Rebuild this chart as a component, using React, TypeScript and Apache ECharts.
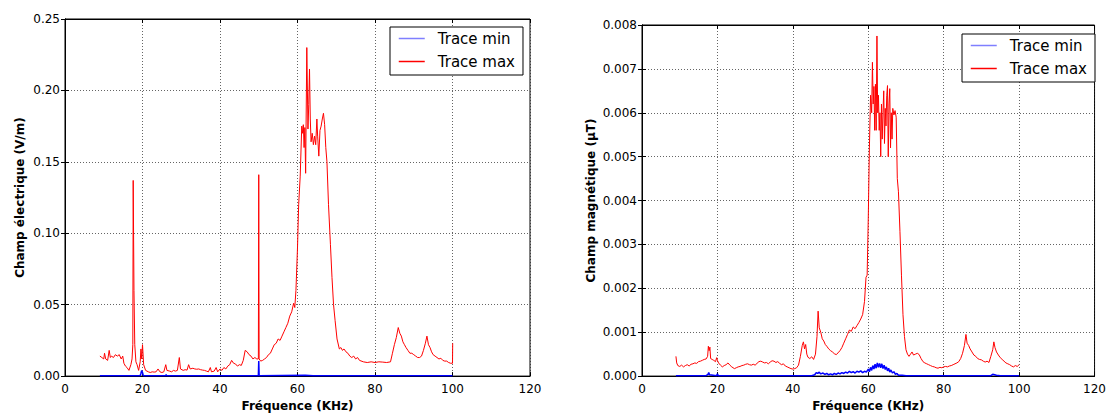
import React, { useEffect, useRef } from "react";
import * as echarts from "echarts";

// ---------- Left chart: electric field ----------
const xTicks = [0, 20, 40, 60, 80, 100, 120];
const eTicks = ["0.00", "0.05", "0.10", "0.15", "0.20", "0.25"];
const bTicks = ["0.000", "0.001", "0.002", "0.003", "0.004", "0.005", "0.006", "0.007", "0.008"];

const eMaxFreq = [
  9.0, 9.5, 10.0, 10.2, 10.5, 11.0, 11.4, 11.7, 12.0, 12.5, 13.0, 13.5, 14.0, 14.5, 14.9, 15.2, 15.6, 16.0, 16.5, 17.0,
  17.3, 17.5, 17.6, 17.8, 18.0, 18.3, 18.6, 19.0, 19.4, 19.6, 19.8, 20.0, 20.3, 20.8, 21.5, 22.0, 22.5, 23.0, 23.5, 24.0,
  24.5, 25.0, 25.5, 26.0, 26.3, 27.0, 27.5, 28.0, 28.5, 29.0, 29.5, 29.8, 30.5, 31.0, 31.5, 31.9, 32.3, 33.0, 33.5, 34.0,
  34.5, 35.0, 35.5, 36.0, 36.5, 37.0, 37.5, 37.8, 38.5, 39.0, 39.4, 40.0, 40.5, 41.0, 41.5, 42.0, 42.5, 43.0, 43.5, 44.0,
  44.5, 45.0, 45.5, 46.0, 46.5, 47.0, 47.5, 48.0, 48.5, 49.0, 49.5, 49.9, 50.0, 50.1, 50.5, 51.0, 51.5, 52.0, 52.5, 53.0,
  53.5, 54.0, 54.5, 55.0, 55.5, 56.0, 56.5, 57.0, 57.5, 58.0, 58.5, 59.0, 59.3, 59.6, 60.0, 60.3, 60.7, 61.1, 61.3, 61.5,
  61.7, 61.9, 62.1, 62.4, 62.7, 62.9, 63.1, 63.3, 63.5, 63.8, 64.1, 64.4, 64.7, 65.0, 65.2, 65.5, 65.8, 66.1, 66.4, 66.7,
  67.0, 67.3, 67.6, 68.0, 68.5, 68.9, 69.3, 69.7, 70.2, 70.8, 71.2, 71.6, 72.0, 72.5, 73.0, 73.5, 74.0, 74.5, 75.0, 75.5,
  76.0, 77.0, 78.0, 79.0, 80.0, 81.0, 82.0, 83.0, 84.0, 84.5, 85.0, 85.5, 86.0, 86.4, 86.8, 87.2, 87.6, 88.0, 88.5, 89.0,
  89.5, 90.0, 90.5, 91.0, 91.5, 92.0, 92.5, 93.0, 93.4, 93.8, 94.2, 94.6, 95.0, 95.5, 96.0, 96.5, 97.0, 97.5, 98.0, 98.5,
  99.0, 99.5, 100.0, 100.05,
];
const eMaxVal = [
  0.014, 0.013, 0.012, 0.016, 0.012, 0.011, 0.018, 0.013, 0.014, 0.013, 0.015, 0.014, 0.015, 0.012, 0.014, 0.009, 0.007, 0.006, 0.004, 0.008,
  0.012, 0.022, 0.137, 0.060, 0.022, 0.010, 0.008, 0.004, 0.010, 0.019, 0.012, 0.022, 0.008, 0.004, 0.003, 0.0025, 0.003, 0.0028, 0.003, 0.005,
  0.003, 0.0025, 0.003, 0.008, 0.004, 0.0035, 0.003, 0.004, 0.0035, 0.004, 0.013, 0.005, 0.004, 0.0045, 0.0042, 0.008, 0.005, 0.0055, 0.005, 0.0048,
  0.005, 0.0045, 0.0042, 0.004, 0.0035, 0.003, 0.006, 0.003, 0.0035, 0.006, 0.003, 0.005, 0.004, 0.006, 0.005, 0.007, 0.008, 0.011, 0.009, 0.0085,
  0.007, 0.008, 0.0075, 0.011, 0.018, 0.017, 0.015, 0.014, 0.012, 0.013, 0.012, 0.012, 0.141, 0.012, 0.0105, 0.011, 0.012, 0.013, 0.015, 0.016,
  0.019, 0.022, 0.023, 0.026, 0.025, 0.028, 0.031, 0.034, 0.037, 0.042, 0.045, 0.051, 0.048, 0.060, 0.090, 0.120, 0.140, 0.175, 0.170, 0.176,
  0.160, 0.174, 0.142, 0.230, 0.173, 0.190, 0.215, 0.180, 0.164, 0.170, 0.162, 0.168, 0.162, 0.180, 0.168, 0.154, 0.172, 0.175, 0.180, 0.184,
  0.176, 0.160, 0.150, 0.120, 0.092, 0.069, 0.050, 0.039, 0.026, 0.019, 0.020, 0.018, 0.019, 0.017, 0.016, 0.014, 0.013, 0.014, 0.012, 0.013,
  0.011, 0.010, 0.0095, 0.010, 0.0095, 0.010, 0.0098, 0.0095, 0.010, 0.016, 0.022, 0.027, 0.034, 0.030, 0.028, 0.024, 0.022, 0.020, 0.018, 0.016,
  0.016, 0.015, 0.014, 0.013, 0.013, 0.014, 0.018, 0.023, 0.028, 0.022, 0.020, 0.017, 0.015, 0.014, 0.013, 0.012, 0.0125, 0.011, 0.0105, 0.0105,
  0.0095, 0.009, 0.009, 0.023,
];

const eMinFreq = [9.0, 19.4, 19.6, 19.8, 20.0, 20.2, 26.0, 26.1, 26.2, 49.9, 50.0, 50.1, 62.0, 64.0, 100.0];
const eMinVal = [0.0003, 0.0003, 0.002, 0.004, 0.0025, 0.0003, 0.0003, 0.0012, 0.0003, 0.0003, 0.0105, 0.0003, 0.0006, 0.0003, 0.0003];

// ---------- Right chart: magnetic field ----------
const bMaxFreq = [
  9.0, 9.2, 9.5, 10.0, 10.5, 11.0, 11.5, 12.0, 12.5, 13.0, 13.5, 14.0, 14.5, 15.0, 15.5, 16.0, 16.5, 17.0, 17.4, 17.6,
  17.8, 18.0, 18.2, 18.6, 19.0, 19.5, 19.8, 20.0, 20.3, 20.8, 21.3, 21.8, 22.3, 22.8, 23.3, 23.8, 24.5, 25.0, 25.5, 26.0,
  26.5, 27.0, 27.5, 28.0, 28.5, 29.0, 29.5, 30.0, 30.5, 31.0, 31.5, 32.0, 32.5, 33.0, 33.5, 34.0, 34.5, 35.0, 35.5, 36.0,
  36.5, 37.0, 37.5, 38.0, 38.5, 39.0, 39.5, 40.0, 40.5, 41.0, 41.5, 42.0, 42.5, 42.8, 43.1, 43.4, 43.7, 44.0, 44.5, 45.0,
  45.5, 46.0, 46.4, 46.7, 47.0, 47.4, 47.8, 48.2, 48.6, 49.0, 49.5, 50.0, 50.5, 51.0, 51.5, 52.0, 52.5, 53.0, 53.5, 54.0,
  54.5, 55.0, 55.5, 56.0, 56.5, 57.0, 57.5, 58.0, 58.5, 59.0, 59.4, 59.7, 60.0, 60.3, 60.6, 60.9, 61.1, 61.3, 61.5, 61.7,
  61.9, 62.1, 62.3, 62.5, 62.7, 62.9, 63.1, 63.3, 63.5, 63.7, 63.9, 64.1, 64.3, 64.5, 64.7, 64.9, 65.1, 65.3, 65.5, 65.7,
  65.9, 66.1, 66.3, 66.5, 66.8, 67.1, 67.4, 67.7, 68.0, 68.4, 68.8, 69.2, 69.6, 70.0, 70.4, 70.8, 71.2, 71.6, 72.0, 72.5,
  73.0, 73.5, 74.0, 74.5, 75.0, 75.5, 76.0, 76.5, 77.0, 77.5, 78.0, 78.5, 79.0, 79.5, 80.0, 80.5, 81.0, 81.5, 82.0, 82.5,
  83.0, 83.5, 84.0, 84.5, 85.0, 85.5, 85.9, 86.2, 86.6, 87.0, 87.5, 88.0, 88.5, 89.0, 89.5, 90.0, 90.5, 91.0, 91.5, 92.0,
  92.5, 93.0, 93.3, 93.6, 94.0, 94.5, 95.0, 95.5, 96.0, 96.5, 97.0, 97.5, 98.0, 98.5, 99.0, 99.5, 100.0,
];
const bMaxVal = [
  0.00045, 0.0003, 0.00024, 0.00022, 0.00025, 0.00021, 0.00024, 0.00026, 0.00023, 0.00027, 0.00028, 0.0003, 0.00029, 0.00033, 0.00034, 0.00036, 0.00038, 0.00039, 0.00045, 0.00068,
  0.00058, 0.00066, 0.0004, 0.00038, 0.00036, 0.00033, 0.00042, 0.00036, 0.0003, 0.00025, 0.00021, 0.00024, 0.00026, 0.0003, 0.00025, 0.00021, 0.00017, 0.00019, 0.00021, 0.00022,
  0.00024, 0.00025, 0.00027, 0.00028, 0.00026, 0.00025, 0.00027, 0.00025, 0.00029, 0.00033, 0.00034, 0.00032, 0.0003, 0.00031, 0.00028, 0.00032, 0.00035, 0.00034, 0.00031, 0.00033,
  0.00029, 0.00026, 0.00028, 0.00023, 0.00021, 0.00019, 0.00017, 0.00016, 0.00017, 0.00019, 0.00025, 0.00045, 0.0007, 0.00078, 0.00062, 0.00072, 0.0005, 0.00043, 0.0004, 0.00044,
  0.00038, 0.0005, 0.0009, 0.00148, 0.0011, 0.001, 0.00085, 0.0008, 0.00072, 0.00068, 0.00062, 0.00058, 0.00055, 0.00051, 0.00049, 0.00053, 0.00058, 0.00065, 0.00075, 0.00085,
  0.00095, 0.00105, 0.00102, 0.00112, 0.00108, 0.00115, 0.00122, 0.0013, 0.0014, 0.0017, 0.00225, 0.0023, 0.0036, 0.0052, 0.0064, 0.006, 0.00715, 0.0062, 0.0066, 0.0056,
  0.00665, 0.0056, 0.00775, 0.006, 0.0064, 0.0056, 0.006, 0.005, 0.0062, 0.0054, 0.006, 0.0065, 0.0053, 0.0061, 0.0057, 0.0064, 0.00662, 0.005, 0.0062, 0.00655,
  0.0052, 0.006, 0.0054, 0.0061, 0.00595, 0.00605, 0.0059, 0.0045, 0.0042, 0.0033, 0.0023, 0.0014, 0.0009, 0.0006, 0.0005, 0.00045, 0.0005, 0.00055, 0.00048, 0.0005,
  0.00052, 0.00049, 0.0004, 0.00033, 0.0003, 0.00028, 0.00026, 0.00024, 0.00022, 0.00021, 0.00019, 0.00018, 0.0002, 0.00019, 0.00021, 0.00022, 0.00021, 0.00023, 0.00024, 0.00026,
  0.00028, 0.0003, 0.00033, 0.0004, 0.00052, 0.0007, 0.00095, 0.00075, 0.0007, 0.00062, 0.00055, 0.00048, 0.00045, 0.0004, 0.00038, 0.00037, 0.00034, 0.00032, 0.00034, 0.00031,
  0.00045, 0.0006, 0.00078, 0.00065, 0.00055, 0.00048, 0.00042, 0.00038, 0.00034, 0.0003, 0.00028, 0.00026, 0.00023, 0.00021, 0.00024, 0.00022, 0.00026,
];

const bMinFreq = [
  9.0, 17.0, 17.5, 17.7, 17.9, 19.8, 20.0, 20.2, 45.0, 45.8, 46.2, 46.6, 47.0, 47.4, 48.0, 48.5, 49.0, 49.5, 50.0, 50.5,
  51.0, 51.5, 52.0, 52.5, 53.0, 53.5, 54.0, 54.5, 55.0, 55.5, 56.0, 56.5, 57.0, 57.5, 58.0, 58.5, 59.0, 59.5, 60.0, 60.3,
  60.6, 60.9, 61.2, 61.5, 61.8, 62.1, 62.4, 62.7, 63.0, 63.3, 63.6, 63.9, 64.2, 64.5, 64.8, 65.1, 65.4, 65.7, 66.0, 66.4,
  66.8, 67.2, 67.6, 68.0, 69.0, 70.0, 92.5, 93.0, 93.5, 94.0, 95.0, 100.0,
];
const bMinVal = [
  0.00001, 0.00001, 0.00004, 0.00008, 0.00003, 0.00001, 0.00005, 0.00001, 0.00001, 0.00003, 0.00008, 0.00006, 0.00009, 0.00005, 0.00007, 0.00004, 0.00006, 0.00003, 0.00005, 0.00003,
  0.00006, 0.00004, 0.00007, 0.00005, 0.00008, 0.00006, 0.00009, 0.00007, 0.00011, 0.00008, 0.0001, 0.00007, 0.00011, 0.00009, 0.00012, 0.00008, 0.00011, 0.00009, 0.00016, 0.0001,
  0.0002, 0.00013, 0.00024, 0.00016, 0.00027, 0.00018, 0.0003, 0.0002, 0.00029, 0.00019, 0.00028, 0.00017, 0.00025, 0.00015, 0.00021, 0.00012, 0.00018, 0.00009, 0.00014, 0.00007,
  0.0001, 0.00004, 0.00006, 0.00002, 0.00002, 0.00001, 0.00001, 0.00004, 0.00003, 0.00002, 0.00001, 0.00001,
];

const zip = (xs: number[], ys: number[]) => xs.map((x, i) => [x, ys[i]]);

const FONT = "DejaVu Sans";

function mainX(gridIndex: number) {
  return {
    type: "value",
    gridIndex,
    min: xTicks[0],
    max: xTicks[xTicks.length - 1],
    interval: 20,
    position: "bottom",
    name: "Fréquence (KHz)",
    nameLocation: "middle",
    nameGap: 22,
    nameTextStyle: { fontFamily: FONT, fontSize: 12, fontWeight: "bold", color: "#000" },
    axisLine: { show: true, onZero: false, lineStyle: { color: "#000", width: 1 } },
    axisTick: { show: true, inside: true, length: 4, lineStyle: { color: "#000" } },
    axisLabel: { fontFamily: FONT, fontSize: 12, color: "#000", margin: 7 },
    splitLine: { show: true, lineStyle: { color: "#222", width: 0.7, type: [1, 2] } },
  };
}
function topX(gridIndex: number) {
  return {
    type: "value",
    gridIndex,
    min: 0,
    max: 120,
    interval: 20,
    position: "top",
    axisLine: { show: true, onZero: false, lineStyle: { color: "#000", width: 1 } },
    axisTick: { show: true, inside: true, length: 4, lineStyle: { color: "#000" } },
    axisLabel: { show: false },
    splitLine: { show: false },
  };
}
function mainY(gridIndex: number, max: number, interval: number, digits: number, name: string, nameGap: number) {
  return {
    type: "value",
    gridIndex,
    min: 0,
    max,
    interval,
    position: "left",
    name,
    nameLocation: "middle",
    nameGap,
    nameTextStyle: { fontFamily: FONT, fontSize: 12, fontWeight: "bold", color: "#000" },
    axisLine: { show: true, lineStyle: { color: "#000", width: 1 } },
    axisTick: { show: true, inside: true, length: 4, lineStyle: { color: "#000" } },
    axisLabel: {
      fontFamily: FONT,
      fontSize: 12,
      color: "#000",
      margin: 5,
      formatter: (v: number) => v.toFixed(digits),
    },
    splitLine: { show: true, lineStyle: { color: "#222", width: 0.7, type: [1, 2] } },
  };
}
function rightY(gridIndex: number, max: number, interval: number) {
  return {
    type: "value",
    gridIndex,
    min: 0,
    max,
    interval,
    position: "right",
    axisLine: { show: true, lineStyle: { color: "#000", width: 1 } },
    axisTick: { show: true, inside: true, length: 4, lineStyle: { color: "#000" } },
    axisLabel: { show: false },
    splitLine: { show: false },
  };
}

function legend(left: number, top: number) {
  return {
    left,
    top,
    orient: "vertical",
    itemWidth: 26,
    itemHeight: 14,
    itemGap: 8,
    padding: [4, 8, 6, 8],
    borderColor: "#000",
    borderWidth: 1,
    borderRadius: 0,
    backgroundColor: "#fff",
    selectedMode: false,
    textStyle: { fontFamily: FONT, fontSize: 15, color: "#000", padding: [0, 0, 0, 8] },
    data: [
      {
        name: "Trace min",
        itemStyle: { color: "rgba(0,0,0,0)", opacity: 0, borderWidth: 0 },
        lineStyle: { color: "#7f7fff", width: 1.5, opacity: 1 },
      },
      {
        name: "Trace max",
        itemStyle: { color: "rgba(0,0,0,0)", opacity: 0, borderWidth: 0 },
        lineStyle: { color: "#ff0000", width: 1.5, opacity: 1 },
      },
    ],
  };
}

function line(name: string, color: string, data: number[][], xi: number, yi: number, width: number) {
  return {
    name,
    type: "line",
    xAxisIndex: xi,
    yAxisIndex: yi,
    data,
    symbol: "none",
    showSymbol: false,
    smooth: false,
    lineStyle: { color, width },
    itemStyle: { color },
    emphasis: { disabled: true },
  };
}

export default function App() {
  const ref = useRef<HTMLDivElement>(null);
  useEffect(() => {
    if (!ref.current) return;
    const chart = echarts.init(ref.current, null, { renderer: "svg" });
    chart.setOption({
      animation: false,
      backgroundColor: "#fff",
      grid: [
        { left: 65, top: 19, width: 465, height: 361, show: true, borderColor: "#000", borderWidth: 1 },
        { left: 642, top: 25, width: 460, height: 355, show: true, borderColor: "#000", borderWidth: 1 },
      ],
      xAxis: [mainX(0), mainX(1), topX(0), topX(1)],
      yAxis: [
        mainY(0, 0.25, 0.05, 2, "Champ électrique (V/m)", 39),
        mainY(1, 0.008, 0.001, 3, "Champ magnétique (µT)", 45),
        rightY(0, 0.25, 0.05),
        rightY(1, 0.008, 0.001),
      ],
      legend: [legend(390, 27), legend(962, 34)],
      series: [
        line("Trace max", "#ff0000", zip(eMaxFreq, eMaxVal), 0, 0, 1),
        line("Trace min", "#0000ff", zip(eMinFreq, eMinVal), 0, 0, 1.5),
        line("Trace max", "#ff0000", zip(bMaxFreq, bMaxVal), 1, 1, 1),
        line("Trace min", "#0000ff", zip(bMinFreq, bMinVal), 1, 1, 1.5),
      ],
    });
    return () => chart.dispose();
  }, []);
  return (
    <div
      ref={ref}
      style={{ position: "absolute", left: 0, top: 0, width: 1109, height: 417, background: "#fff" }}
    />
  );
}
